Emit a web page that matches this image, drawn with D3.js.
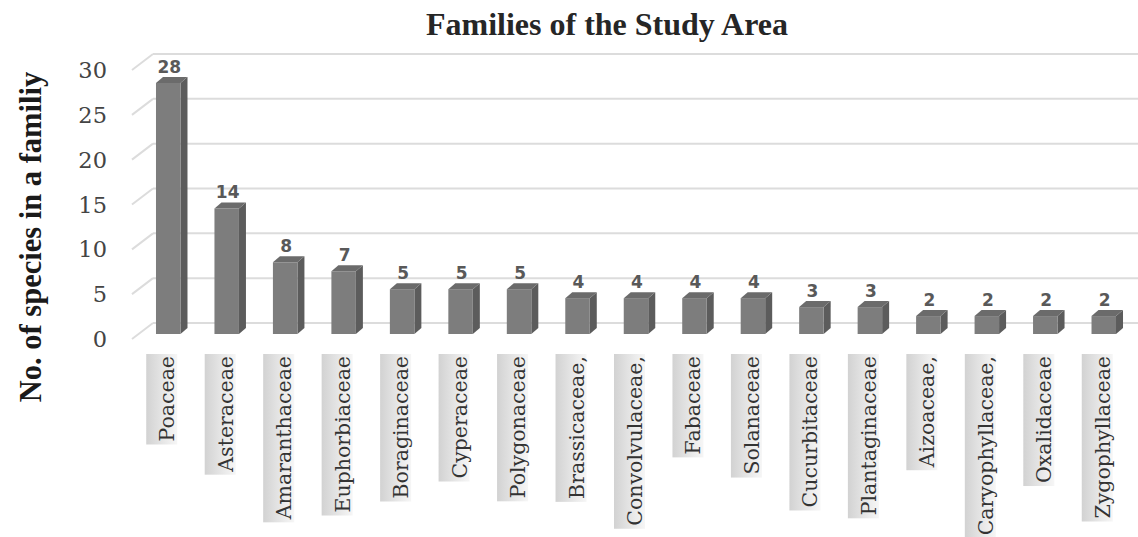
<!DOCTYPE html>
<html><head><meta charset="utf-8">
<script src="https://cdn.jsdelivr.net/npm/d3@7"></script>
<style>html,body{margin:0;padding:0;background:#fff;}svg{display:block;}</style>
</head><body>
<svg id="chart" width="1138" height="537"></svg>
<script>
const categories = ["Poaceae","Asteraceae","Amaranthaceae","Euphorbiaceae","Boraginaceae","Cyperaceae","Polygonaceae","Brassicaceae,","Convolvulaceae,","Fabaceae","Solanaceae","Cucurbitaceae","Plantaginaceae","Aizoaceae,","Caryophyllaceae,","Oxalidaceae","Zygophyllaceae"];
const values = [28,14,8,7,5,5,5,4,4,4,4,3,3,2,2,2,2];
const yTicks = [0,5,10,15,20,25,30];
const title = "Families of the Study Area";
const yTitle = "No. of species in a familiy";

const svg = d3.select("#chart");
const W = 1138, H = 537;

// back wall scales
const x = d3.scaleBand().domain(categories).range([153, 1147]).paddingInner(0).paddingOuter(0);
const y = d3.scaleLinear().domain([0,30]).range([323, 54]);

// depth offsets
const floorDx = -21, floorDy = 16;   // front edge of floor relative to back wall
const barFrontDx = -14, barFrontDy = 11;
const barBackDx = -7, barBackDy = 5;
const barW = 24.5;

const defs = svg.append("defs");
const grad = defs.append("linearGradient").attr("id","lblbg").attr("x1","0").attr("x2","1").attr("y1","0").attr("y2","0");
grad.append("stop").attr("offset","0%").attr("stop-color","#d2d2d2");
grad.append("stop").attr("offset","70%").attr("stop-color","#ececec");
grad.append("stop").attr("offset","100%").attr("stop-color","#f6f6f6");

// gridlines (back wall + side diagonal)
const grid = svg.append("g");
yTicks.forEach(t => {
  grid.append("line").attr("x1", x.range()[0]).attr("x2", W).attr("y1", y(t)).attr("y2", y(t))
    .attr("stroke","#dcdcdc").attr("stroke-width",2);
  grid.append("line").attr("x1", x.range()[0] + floorDx).attr("y1", y(t) + floorDy)
    .attr("x2", x.range()[0]).attr("y2", y(t))
    .attr("stroke","#dcdcdc").attr("stroke-width",2);
});

// y tick labels
svg.append("g").selectAll("text").data(yTicks).join("text")
  .attr("x", 107).attr("y", d => y(d) + floorDy)
  .attr("dy", "0.36em")
  .attr("text-anchor","end")
  .attr("font-family","DejaVu Serif")
  .attr("font-size", 22.5)
  .attr("fill","#444")
  .text(d => d);

// bars
const bars = svg.append("g").selectAll("g").data(categories).join("g");
bars.each(function(c, i) {
  const g = d3.select(this);
  const v = values[i];
  const cx = x(c) + x.bandwidth()/2;
  const fx0 = cx + barFrontDx - barW/2, fx1 = fx0 + barW;
  const fyTop = y(v) + barFrontDy, fyBot = y(0) + barFrontDy;
  const ddx = barBackDx - barFrontDx, ddy = barBackDy - barFrontDy;
  g.append("path").attr("d", `M${fx1},${fyTop}L${fx1+ddx},${fyTop+ddy}L${fx1+ddx},${fyBot+ddy}L${fx1},${fyBot}Z`)
    .attr("fill","#5c5c5c");
  g.append("path").attr("d", `M${fx0},${fyTop}L${fx0+ddx},${fyTop+ddy}L${fx1+ddx},${fyTop+ddy}L${fx1},${fyTop}Z`)
    .attr("fill","#6b6b6b");
  g.append("rect").attr("x", fx0).attr("y", fyTop).attr("width", barW).attr("height", fyBot - fyTop)
    .attr("fill","#7d7d7d");
  g.append("text").attr("x", fx0 + barW/2 + 1).attr("y", fyTop + ddy - 4)
    .attr("text-anchor","middle")
    .attr("font-family","DejaVu Sans").attr("font-weight","bold")
    .attr("font-size", 17).attr("fill","#595959")
    .text(v);
});

// category labels
const labTop = 356;
const labels = svg.append("g").selectAll("g").data(categories).join("g");
labels.each(function(c) {
  const g = d3.select(this);
  const cx = x(c) + x.bandwidth()/2 + barFrontDx;
  const bx = cx + 6;
  const rect = g.append("rect");
  const t = g.append("text")
    .attr("transform", `translate(${bx},${labTop}) rotate(-90)`)
    .attr("text-anchor","end")
    .attr("font-family","DejaVu Serif")
    .attr("font-size", 20.5)
    .attr("fill","#333")
    .text(c);
  const len = t.node().getComputedTextLength();
  rect.attr("x", bx - 28).attr("y", labTop - 2).attr("width", 31).attr("height", len + 5)
    .attr("fill","url(#lblbg)");
});

// title
svg.append("text").attr("x", 607).attr("y", 35)
  .attr("text-anchor","middle")
  .attr("font-family","Liberation Serif").attr("font-weight","bold")
  .attr("font-size", 32).attr("fill","#262626")
  .text(title);

// y axis title
svg.append("text").attr("transform", "translate(41,237) rotate(-90)")
  .attr("text-anchor","middle")
  .attr("font-family","Liberation Serif").attr("font-weight","bold")
  .attr("font-size", 30.5).attr("fill","#1a1a1a")
  .text(yTitle);
</script>
</body></html>
